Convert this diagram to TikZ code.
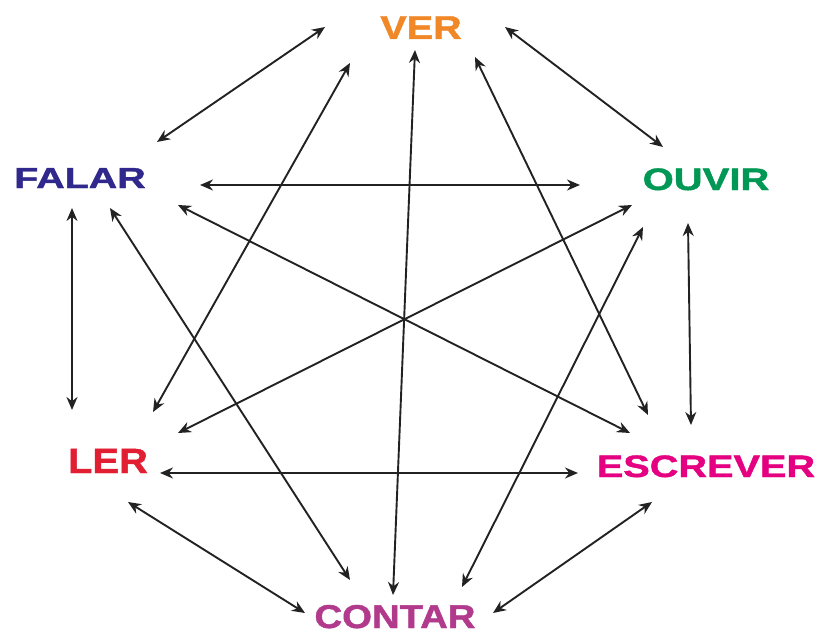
\documentclass[tikz,border=0pt]{standalone}
\usepackage{fontspec}
\setmainfont{Liberation Sans}[BoldFeatures={FakeBold=1.2}]
\usetikzlibrary{arrows.meta}
\definecolor{cver}{RGB}{240,136,40}
\definecolor{cfalar}{RGB}{48,40,140}
\definecolor{couvir}{RGB}{0,152,84}
\definecolor{cler}{RGB}{226,30,50}
\definecolor{cescrever}{RGB}{228,0,128}
\definecolor{ccontar}{RGB}{178,58,140}
\definecolor{arr}{RGB}{34,34,34}
\newcommand{\lbl}[3]{\scalebox{#2}[1]{\fontsize{#1}{#1}\selectfont\bfseries #3}}
\begin{document}
\begin{tikzpicture}[x=1pt,y=-1pt,
  word/.style={inner sep=0pt,anchor=base},
  link/.style={draw=arr,line width=1.9pt,{Stealth[length=13pt,width=11pt]}-{Stealth[length=13pt,width=11pt]}}]
\useasboundingbox[fill=white] (0,0) rectangle (820,634);
\node[word,text=cver] (ver) at (421,39) {\lbl{33}{1.2}{VER}};
\node[word,text=cfalar] (falar) at (80,188) {\lbl{29}{1.36}{FALAR}};
\node[word,text=couvir] (ouvir) at (706,190) {\lbl{31}{1.29}{OUVIR}};
\node[word,text=cler] (ler) at (108,473) {\lbl{35}{1.14}{LER}};
\node[word,text=cescrever] (escrever) at (706,477) {\lbl{31}{1.28}{ESCREVER}};
\node[word,text=ccontar] (contar) at (395,628) {\lbl{33}{1.16}{CONTAR}};
% endpoints
\coordinate (ver-f) at (325,27);   \coordinate (falar-v) at (157,142);
\coordinate (ver-o) at (505,27);   \coordinate (ouvir-v) at (663,147);
\coordinate (falar-o) at (200,185); \coordinate (ouvir-f) at (580,185);
\coordinate (falar-l) at (72,208);  \coordinate (ler-f) at (72,410);
\coordinate (ouvir-e) at (688,223); \coordinate (escrever-o) at (691,425);
\coordinate (ler-e) at (160,473);   \coordinate (escrever-l) at (578,473);
\coordinate (ler-c) at (128,502);   \coordinate (contar-l) at (305,613);
\coordinate (escrever-c) at (652,502); \coordinate (contar-e) at (493,613);
\coordinate (ver-l) at (350,63);    \coordinate (ler-v) at (153,412);
\coordinate (ver-c) at (415,50);    \coordinate (contar-v) at (393,595);
\coordinate (ver-e) at (475,57);    \coordinate (escrever-v) at (648,415);
\coordinate (falar-c) at (110,208); \coordinate (contar-f) at (350,580);
\coordinate (falar-e) at (178,205); \coordinate (escrever-f) at (630,433);
\coordinate (ouvir-l) at (632,205); \coordinate (ler-o) at (178,433);
\coordinate (ouvir-c) at (643,227); \coordinate (contar-o) at (462,587);
\draw[link] (ver-f) -- (falar-v);
\draw[link] (ver-o) -- (ouvir-v);
\draw[link] (falar-o) -- (ouvir-f);
\draw[link] (falar-l) -- (ler-f);
\draw[link] (ouvir-e) -- (escrever-o);
\draw[link] (ler-e) -- (escrever-l);
\draw[link] (ler-c) -- (contar-l);
\draw[link] (escrever-c) -- (contar-e);
\draw[link] (ver-l) -- (ler-v);
\draw[link] (ver-c) -- (contar-v);
\draw[link] (ver-e) -- (escrever-v);
\draw[link] (falar-c) -- (contar-f);
\draw[link] (falar-e) -- (escrever-f);
\draw[link] (ouvir-l) -- (ler-o);
\draw[link] (ouvir-c) -- (contar-o);
\end{tikzpicture}
\end{document}
